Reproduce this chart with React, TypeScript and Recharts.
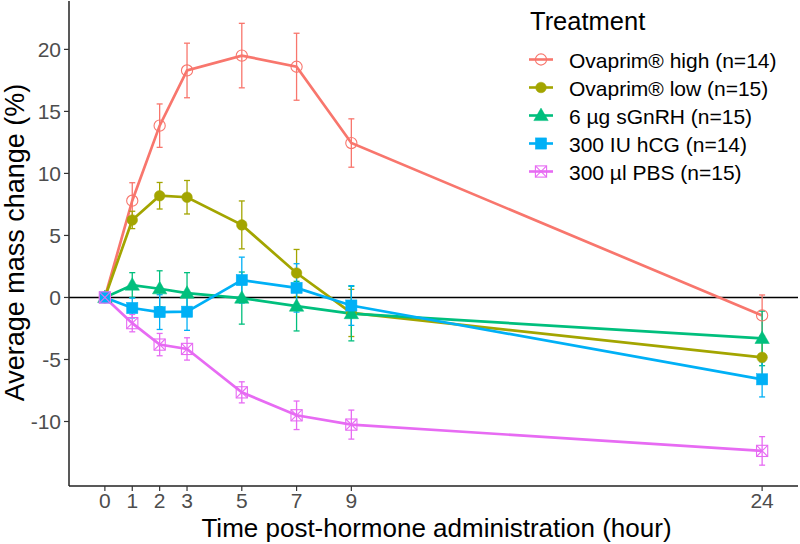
import React from 'react';
import { LineChart, Line, XAxis, YAxis, ErrorBar, ReferenceLine, Legend } from 'recharts';

// Sampling times (hours after hormone injection)
const hours = [0, 1, 2, 3, 5, 7, 9, 24];
const hourTicks = [0, 1, 2, 3, 5, 7, 9, 24];
const massTicks = [-10, -5, 0, 5, 10, 15, 20];

// Mean mass change (%) and standard error for each treatment
const ovaprimHighMean = [0, 7.8, 13.85, 18.3, 19.5, 18.6, 12.45, -1.45];
const ovaprimHighSe = [0, 1.45, 1.75, 2.2, 2.6, 2.7, 1.95, 1.65];

const ovaprimLowMean = [0, 6.25, 8.2, 8.08, 5.85, 1.97, -1.25, -4.83];
const ovaprimLowSe = [0, 0.7, 1.07, 1.35, 1.93, 1.9, 1.9, 1.6];

const sGnRHMean = [0, 1.0, 0.7, 0.35, -0.05, -0.7, -1.3, -3.3];
const sGnRHSe = [0, 1.0, 1.45, 1.65, 2.1, 2.0, 2.2, 2.2];

const hCGMean = [0, -0.85, -1.18, -1.15, 1.4, 0.77, -0.65, -6.6];
const hCGSe = [0, 0.8, 1.4, 1.5, 1.85, 1.95, 1.6, 1.42];

const pbsMean = [0, -2.07, -3.8, -4.15, -7.65, -9.5, -10.25, -12.37];
const pbsSe = [0, 0.7, 0.9, 0.9, 0.85, 1.15, 1.17, 1.15];

type Shape = 'openCircle' | 'circle' | 'triangle' | 'square' | 'squareCross';

const seriesList: { key: string; name: string; color: string; shape: Shape; mean: number[]; se: number[] }[] = [
  { key: 'high', name: 'Ovaprim® high (n=14)', color: '#F8766D', shape: 'openCircle', mean: ovaprimHighMean, se: ovaprimHighSe },
  { key: 'low', name: 'Ovaprim® low (n=15)', color: '#A3A500', shape: 'circle', mean: ovaprimLowMean, se: ovaprimLowSe },
  { key: 'gnrh', name: '6 µg sGnRH (n=15)', color: '#00BF7D', shape: 'triangle', mean: sGnRHMean, se: sGnRHSe },
  { key: 'hcg', name: '300 IU hCG (n=14)', color: '#00B0F6', shape: 'square', mean: hCGMean, se: hCGSe },
  { key: 'pbs', name: '300 µl PBS (n=15)', color: '#E76BF3', shape: 'squareCross', mean: pbsMean, se: pbsSe },
];

const data = hours.map((h, i) => {
  const row: Record<string, number> = { hour: h };
  seriesList.forEach((s) => {
    row[s.key] = s.mean[i];
    row[s.key + 'Se'] = s.se[i];
  });
  return row;
});

const FONT = 'Liberation Sans, Arial, Helvetica, sans-serif';

function Marker({ shape, color, cx, cy }: { shape: Shape; color: string; cx: number; cy: number }) {
  switch (shape) {
    case 'openCircle':
      return <circle cx={cx} cy={cy} r={5.6} fill="none" stroke={color} strokeWidth={1.1} />;
    case 'circle':
      return <circle cx={cx} cy={cy} r={5.3} fill={color} stroke={color} strokeWidth={0.5} />;
    case 'triangle':
      return (
        <polygon
          points={`${cx},${cy - 7.4} ${cx - 7.2},${cy + 5.1} ${cx + 7.2},${cy + 5.1}`}
          fill={color}
          stroke={color}
          strokeWidth={0.5}
        />
      );
    case 'square':
      return <rect x={cx - 5.6} y={cy - 5.6} width={11.2} height={11.2} fill={color} stroke={color} strokeWidth={0.5} />;
    case 'squareCross':
      return (
        <g fill="none" stroke={color} strokeWidth={1.1}>
          <rect x={cx - 5.6} y={cy - 5.6} width={11.2} height={11.2} />
          <line x1={cx - 5.6} y1={cy - 5.6} x2={cx + 5.6} y2={cy + 5.6} />
          <line x1={cx - 5.6} y1={cy + 5.6} x2={cx + 5.6} y2={cy - 5.6} />
        </g>
      );
    default:
      return null;
  }
}

const makeDot = (shape: Shape, color: string) => (props: any) => {
  const { cx, cy, index } = props;
  if (cx == null || cy == null) return <g key={`d-${index}`} />;
  return (
    <g key={`d-${shape}-${index}`}>
      <Marker shape={shape} color={color} cx={cx} cy={cy} />
    </g>
  );
};

function LegendBox() {
  const rowStart = 59.5;
  const rowGap = 28;
  return (
    <svg width={280} height={200} style={{ display: 'block', fontFamily: FONT }}>
      <text x={10} y={30} fontSize={25.5} fill="#000">
        Treatment
      </text>
      {seriesList.map((s, i) => {
        const y = rowStart + rowGap * i;
        return (
          <g key={s.key}>
            <line x1={9} x2={33} y1={y} y2={y} stroke={s.color} strokeWidth={2.6} />
            <Marker shape={s.shape} color={s.color} cx={21} cy={y} />
            <text x={49} y={y + 8.2} fontSize={21} fill="#000">
              {s.name}
            </text>
          </g>
        );
      })}
    </svg>
  );
}

function XTitle(props: any) {
  const { viewBox } = props;
  const cx = viewBox.x + viewBox.width / 2;
  return (
    <text x={cx + 3} y={537} textAnchor="middle" fontSize={26} fill="#000" fontFamily={FONT}>
      Time post-hormone administration (hour)
    </text>
  );
}

function YTitle(props: any) {
  const { viewBox } = props;
  const cy = viewBox.y + viewBox.height / 2 - 1;
  const x = 23.5;
  return (
    <text
      x={x}
      y={cy}
      transform={`rotate(-90, ${x}, ${cy})`}
      textAnchor="middle"
      fontSize={27}
      fill="#000"
      fontFamily={FONT}
    >
      Average mass change (%)
    </text>
  );
}

const tickStyle = { fontSize: 21, fill: '#4D4D4D', fontFamily: FONT };

export default function App() {
  return (
    <div style={{ position: 'absolute', left: 0, top: 0, width: 800, height: 544, background: '#fff' }}>
      <LineChart width={800} height={544} data={data} margin={{ top: 1, right: 2, bottom: 0, left: 0 }}>
        <XAxis
          dataKey="hour"
          type="number"
          domain={[-1.31, 25.31]}
          ticks={hourTicks}
          allowDataOverflow
          height={58}
          tick={tickStyle}
          tickSize={5}
          tickMargin={2}
          axisLine={{ stroke: '#222', strokeWidth: 1.5 }}
          tickLine={{ stroke: '#333', strokeWidth: 1.2 }}
          label={<XTitle />}
        />
        <YAxis
          type="number"
          domain={[-15.2, 23.9]}
          ticks={massTicks}
          allowDataOverflow
          width={69}
          tick={tickStyle}
          tickSize={5}
          tickMargin={3}
          axisLine={{ stroke: '#222', strokeWidth: 1.5 }}
          tickLine={{ stroke: '#333', strokeWidth: 1.2 }}
          label={<YTitle />}
        />
        <ReferenceLine y={0} stroke="#000" strokeWidth={1.4} />
        {seriesList.map((s) => (
          <Line
            key={s.key}
            type="linear"
            dataKey={s.key}
            name={s.name}
            stroke={s.color}
            strokeWidth={2.7}
            dot={makeDot(s.shape, s.color)}
            activeDot={false}
            isAnimationActive={false}
          >
            <ErrorBar dataKey={s.key + 'Se'} width={3} stroke={s.color} strokeWidth={1.3} direction="y" isAnimationActive={false} />
          </Line>
        ))}
        <Legend
          layout="horizontal"
          verticalAlign="middle"
          align="center"
          width={280}
          wrapperStyle={{ left: 520, top: 0, width: 280, height: 200 }}
          content={() => <LegendBox />}
        />
      </LineChart>
    </div>
  );
}
